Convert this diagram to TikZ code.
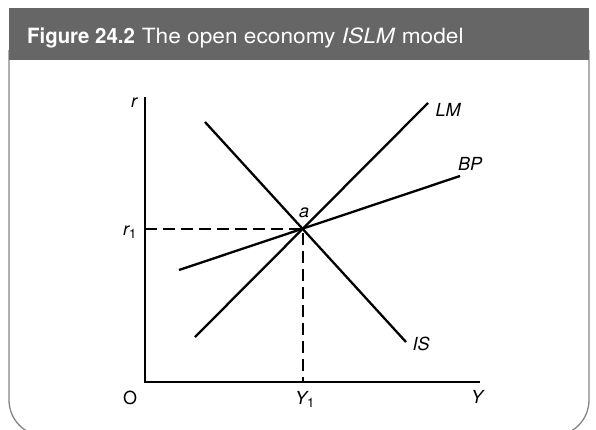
\documentclass[tikz,border=0pt]{standalone}
\usepackage{fontspec}
\setmainfont{TeX Gyre Heros}
\definecolor{headgray}{HTML}{666666}
\definecolor{framegray}{HTML}{858585}
\newcommand{\subone}{\raisebox{-0.4ex}{\upshape\fontsize{13}{14}\selectfont 1}}
\begin{document}
\begin{tikzpicture}[x=1pt,y=-1pt,
  curve/.style={line width=2.3pt},
  axisline/.style={line width=1.3pt},
  guide/.style={line width=1.1pt, dash pattern=on 12pt off 6pt},
  lbl/.style={font=\fontsize{18}{20}\selectfont\itshape, inner sep=0pt},
  uplbl/.style={font=\fontsize{18}{20}\selectfont, inner sep=0pt}]
\useasboundingbox (0,0) rectangle (596,429);
\begin{scope}
  \clip (0,0) rectangle (596,429);
  \draw[framegray, line width=1.3pt, rounded corners=36pt] (9,50) -- (9,436) -- (589,436) -- (589,50);
\end{scope}
\fill[headgray] (9,8) rectangle (589,60);
\node[anchor=base west, text=white, inner sep=0pt, font=\fontsize{21}{24}\selectfont] (title) at (27,43)
  {\scalebox{0.97}[1]{\textbf{Figure 24.2}}\hspace{7pt}\scalebox{1.08}[1]{The open economy \textit{ISLM} model}};

% axes
\coordinate (rtop) at (145,97);
\coordinate (O) at (145,382);
\coordinate (yend) at (480,382);
\draw[axisline] (rtop) -- (O) -- (yend);

% equilibrium
\coordinate (a) at (303,229);
\coordinate (r1) at (145,229);
\coordinate (y1) at (303,382);
\draw[guide] (r1) -- (a) -- (y1);

% curves
\coordinate (IS1) at (205,122);
\coordinate (IS2) at (406,342);
\coordinate (LM1) at (195,337);
\coordinate (LM2) at (428,103);
\coordinate (BP1) at (179,270);
\coordinate (BP2) at (460,176);
\draw[curve] (IS1) -- (IS2);
\draw[curve] (LM1) -- (LM2);
\draw[curve] (BP1) -- (BP2);

% labels
\node[lbl] (lr) at (134,103) {r};
\node[lbl, anchor=base west] (lr1) at (123,235) {r\subone};
\node[uplbl] (lO) at (130,398) {O};
\node[lbl, anchor=base west] (lY1) at (295,404) {Y\subone};
\node[lbl] (lY) at (477,397) {Y};
\node[lbl] (la) at (304,213) {a};
\node[lbl] (lIS) at (421,344) {IS};
\node[lbl] (lLM) at (448,110) {LM};
\node[lbl] (lBP) at (470,164) {BP};
\end{tikzpicture}
\end{document}
